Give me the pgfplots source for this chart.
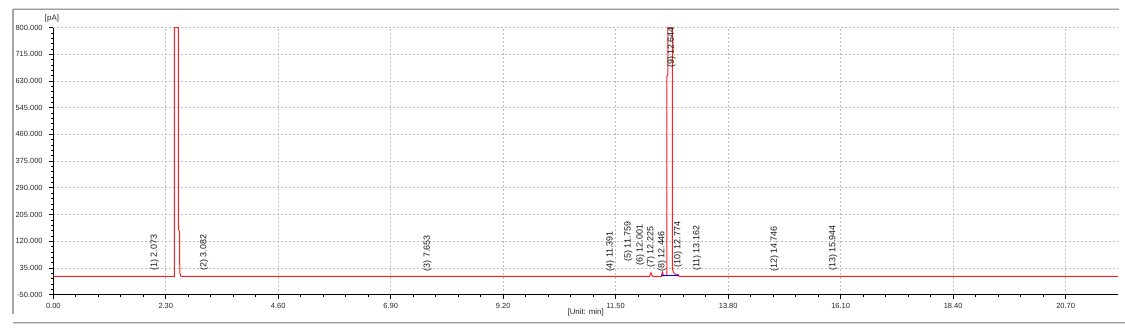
\documentclass[border=0pt]{standalone}
\usepackage{pgfplots}
\pgfplotsset{compat=1.18}
\usepackage{fontspec}
\setmainfont{Liberation Sans}
\definecolor{gridc}{HTML}{BEBEBE}
\definecolor{sigred}{HTML}{FF2020}
\begin{document}
\begin{tikzpicture}[lbl/.style={rotate=90, font=\fontsize{6.7}{7.5}\selectfont, inner sep=0pt, text=black!90}]
\useasboundingbox (-39.975pt,-28.725pt) rectangle (803.775pt,221.025pt);
% window frame
\draw[gray!35, line width=0.8pt] (-30.2pt,214.6pt) -- (799.5pt,214.6pt);
\draw[gray!75, line width=0.8pt] (-30.2pt,213.6pt) -- (799.5pt,213.6pt);
\draw[gray!70, line width=0.9pt] (-30.2pt,214pt) -- (-30.2pt,-14.5pt);
\draw[gray!75, line width=0.8pt] (-30.2pt,-21pt) -- (803.775pt,-21pt);
\draw[gray!35, line width=0.8pt] (-30.2pt,-21.9pt) -- (803.775pt,-21.9pt);

\begin{axis}[
  at={(0,0)}, anchor=south west,
  scale only axis, width=798.5pt, height=200.4pt,
  xmin=0, xmax=21.77, ymin=-50, ymax=800,
  clip=false,
  axis x line=bottom, axis y line=left,
  axis line style={-, black, line width=0.6pt},
  tick align=outside,
  major tick length=3pt, minor tick length=1.6pt,
  tick style={black, line width=0.5pt},
  xtick={0,2.3,4.6,6.9,9.2,11.5,13.8,16.1,18.4,20.7},
  ytick={-50,35,120,205,290,375,460,545,630,715,800},
  minor x tick num=4, minor y tick num=4,
  xticklabel style={/pgf/number format/.cd, fixed, fixed zerofill, precision=2, 1000 sep={}},
  yticklabel style={/pgf/number format/.cd, fixed, fixed zerofill, precision=3, 1000 sep={}, /tikz/.cd, xshift=-1.5pt},
  /pgf/number format/assume math mode=true,
  ticklabel style={font=\fontsize{5.6}{6.5}\selectfont, text=black!85},
  grid=major,
  major grid style={gridc, line width=0.6pt, dash pattern=on 1.5pt off 1.5pt},
]
\addplot[sigred, line width=0.75pt] coordinates {
 (0,8) (2.474,8) (2.474,800) (2.556,800) (2.558,158) (2.584,150) (2.586,20) (2.61,8)
 (12.19,8) (12.222,20) (12.25,8)
 (12.43,8) (12.455,22) (12.48,10) (12.544,12) (12.544,643) (12.565,650) (12.565,800)
 (12.659,800) (12.661,30) (12.70,16) (12.774,14) (12.80,8) (21.77,8)
};
\addplot[blue, line width=0.75pt] coordinates {(12.42,10) (12.80,10)};

\node[lbl, anchor=west] at (axis cs:2.073,26) {(1) 2.073};
\node[lbl, anchor=west] at (axis cs:3.082,26) {(2) 3.082};
\node[lbl, anchor=west] at (axis cs:7.653,24) {(3) 7.653};
\node[lbl, anchor=west] at (axis cs:11.391,24) {(4) 11.391};
\node[lbl, anchor=west] at (axis cs:11.759,55) {(5) 11.759};
\node[lbl, anchor=west] at (axis cs:12.001,42) {(6) 12.001};
\node[lbl, anchor=west] at (axis cs:12.225,36) {(7) 12.225};
\node[lbl, anchor=west] at (axis cs:12.446,22) {(8) 12.446};
\node[lbl, anchor=east] at (axis cs:12.644,802) {(9) 12.644};
\node[lbl, anchor=west] at (axis cs:12.774,36) {(10) 12.774};
\node[lbl, anchor=west] at (axis cs:13.162,25) {(11) 13.162};
\node[lbl, anchor=west] at (axis cs:14.746,22) {(12) 14.746};
\node[lbl, anchor=west] at (axis cs:15.944,25) {(13) 15.944};

\node[font=\fontsize{5.9}{6.5}\selectfont, text=black!85] at (rel axis cs:0.5,0) [yshift=-13pt] {[Unit: min]};
\node[font=\fontsize{5.9}{6.5}\selectfont, text=black!85] at (rel axis cs:0,1) [xshift=-1pt, yshift=7.1pt] {[pA]};
\end{axis}
\end{tikzpicture}
\end{document}
